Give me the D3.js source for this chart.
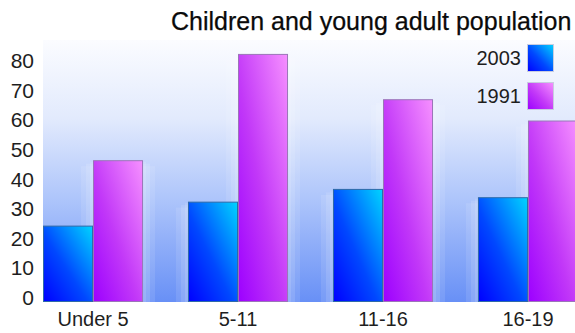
<!DOCTYPE html>
<html>
<head>
<meta charset="utf-8">
<script src="https://cdn.jsdelivr.net/npm/d3@7"></script>
<style>
  html, body { margin: 0; padding: 0; background: #fff; }
  svg { display: block; }
  text { font-family: "Liberation Sans", Arial, Helvetica, sans-serif; }
</style>
</head>
<body>
<svg id="chart" width="575" height="333"></svg>
<script>
// ---- data ----
const categories = ["Under 5", "5-11", "11-16", "16-19"];
const seriesNames = ["2003", "1991"];
const values2003 = [25.8, 33.9, 38.2, 35.4];
const values1991 = [47.9, 83.8, 68.5, 61.3];
const yTicks = [0, 10, 20, 30, 40, 50, 60, 70, 80];
const titleText = "Children and young adult population";

const seriesValues = { "2003": values2003, "1991": values1991 };

const W = 575, H = 333;
const plot = { left: 43, right: 578, top: 40, bottom: 302 };

const svg = d3.select("#chart");
const defs = svg.append("defs");

// background gradient
const bg = defs.append("linearGradient").attr("id", "bgGrad")
  .attr("x1", 0).attr("y1", 0).attr("x2", 0).attr("y2", 1);
bg.append("stop").attr("offset", "0%").attr("stop-color", "#fbfcff");
bg.append("stop").attr("offset", "30%").attr("stop-color", "#e2eafd");
bg.append("stop").attr("offset", "60%").attr("stop-color", "#afc6fb");
bg.append("stop").attr("offset", "100%").attr("stop-color", "#6890f6");

// bar gradients
const gradDefs = {
  "2003": ["#0000ff", "#0048ff", "#00d4ff"],
  "1991": ["#9c00ff", "#c238f8", "#f690ff"]
};
seriesNames.forEach(s => {
  const g = defs.append("linearGradient").attr("id", "grad" + s)
    .attr("x1", 0).attr("y1", 1).attr("x2", 1).attr("y2", 0);
  g.append("stop").attr("offset", "0%").attr("stop-color", gradDefs[s][0]);
  g.append("stop").attr("offset", "45%").attr("stop-color", gradDefs[s][1]);
  g.append("stop").attr("offset", "100%").attr("stop-color", gradDefs[s][2]);
});
const strokeCol = { "2003": "#2f6aa8", "1991": "#9a76b8" };

// scales
const x0 = d3.scaleBand().domain(categories)
  .range([plot.left, plot.right]).paddingInner(0.31).paddingOuter(0);
const x1 = d3.scaleBand().domain(seriesNames).range([0, x0.bandwidth()]);
const y = d3.scaleLinear().domain([0, 88.5]).range([plot.bottom, plot.top]);

// plot background
svg.append("rect")
  .attr("x", plot.left).attr("y", plot.top)
  .attr("width", W - plot.left).attr("height", plot.bottom - plot.top)
  .attr("fill", "url(#bgGrad)");

// title
svg.append("text")
  .attr("x", 171).attr("y", 30)
  .attr("font-size", 25).attr("fill", "#0a0a0a")
  .attr("stroke", "#0a0a0a").attr("stroke-width", 0.25)
  .text(titleText);

// halos behind bars
const groups = svg.append("g").selectAll("g").data(categories).join("g")
  .attr("transform", d => `translate(${x0(d)},0)`);

const barData = (cat, i) => seriesNames.map(s => ({ cat, s, v: seriesValues[s][i] }));

groups.each(function (cat, i) {
  const g = d3.select(this);
  const data = barData(cat, i);
  [[12, 0.10], [7, 0.12], [3, 0.12]].forEach(([pad, op]) => {
    g.selectAll(null).data(data).join("rect")
      .attr("x", d => x1(d.s) - pad)
      .attr("y", d => y(d.v) + pad * 0.5)
      .attr("width", d => x1.bandwidth() + pad * 2)
      .attr("height", d => plot.bottom - y(d.v) - pad * 0.5)
      .attr("fill", "#ffffff").attr("opacity", op);
  });
});

groups.each(function (cat, i) {
  const g = d3.select(this);
  const data = barData(cat, i);
  g.selectAll("rect.bar").data(data).join("rect")
    .attr("class", "bar")
    .attr("x", d => x1(d.s) + 0.5)
    .attr("y", d => y(d.v) + 0.5)
    .attr("width", x1.bandwidth() - 1)
    .attr("height", d => plot.bottom - y(d.v) - 1)
    .attr("fill", d => `url(#grad${d.s})`)
    .attr("stroke", d => strokeCol[d.s])
    .attr("stroke-width", 1);
});

// y axis
const yAxis = svg.append("g")
  .attr("transform", `translate(${plot.left},0)`)
  .call(d3.axisLeft(y).tickValues(yTicks).tickSize(0).tickPadding(9));
yAxis.select(".domain").remove();
yAxis.selectAll("text")
  .attr("font-size", 21).attr("fill", "#1e1e1e")
  .attr("font-family", "Liberation Sans, Arial, sans-serif")
  .attr("dy", "0.12em");

// x axis
const xAxis = svg.append("g")
  .attr("transform", `translate(0,${plot.bottom})`)
  .call(d3.axisBottom(x0).tickSize(0).tickPadding(10));
xAxis.select(".domain").remove();
xAxis.selectAll("text")
  .attr("font-size", 20).attr("fill", "#1e1e1e")
  .attr("font-family", "Liberation Sans, Arial, sans-serif");

// legend
const legend = svg.append("g");
const legY = d3.scaleBand().domain(seriesNames).range([44, 109]).paddingInner(0.289);
legend.selectAll("rect").data(seriesNames).join("rect")
  .attr("x", 527.5).attr("y", d => legY(d) + 0.5)
  .attr("width", 26).attr("height", 27)
  .attr("fill", d => `url(#grad${d})`)
  .attr("stroke", "#c8cce0").attr("stroke-width", 1);
legend.selectAll("text").data(seriesNames).join("text")
  .attr("x", 521).attr("y", d => legY(d) + 14)
  .attr("dy", "0.36em").attr("text-anchor", "end")
  .attr("font-size", 20).attr("fill", "#1e1e1e")
  .text(d => d);
</script>
</body>
</html>
